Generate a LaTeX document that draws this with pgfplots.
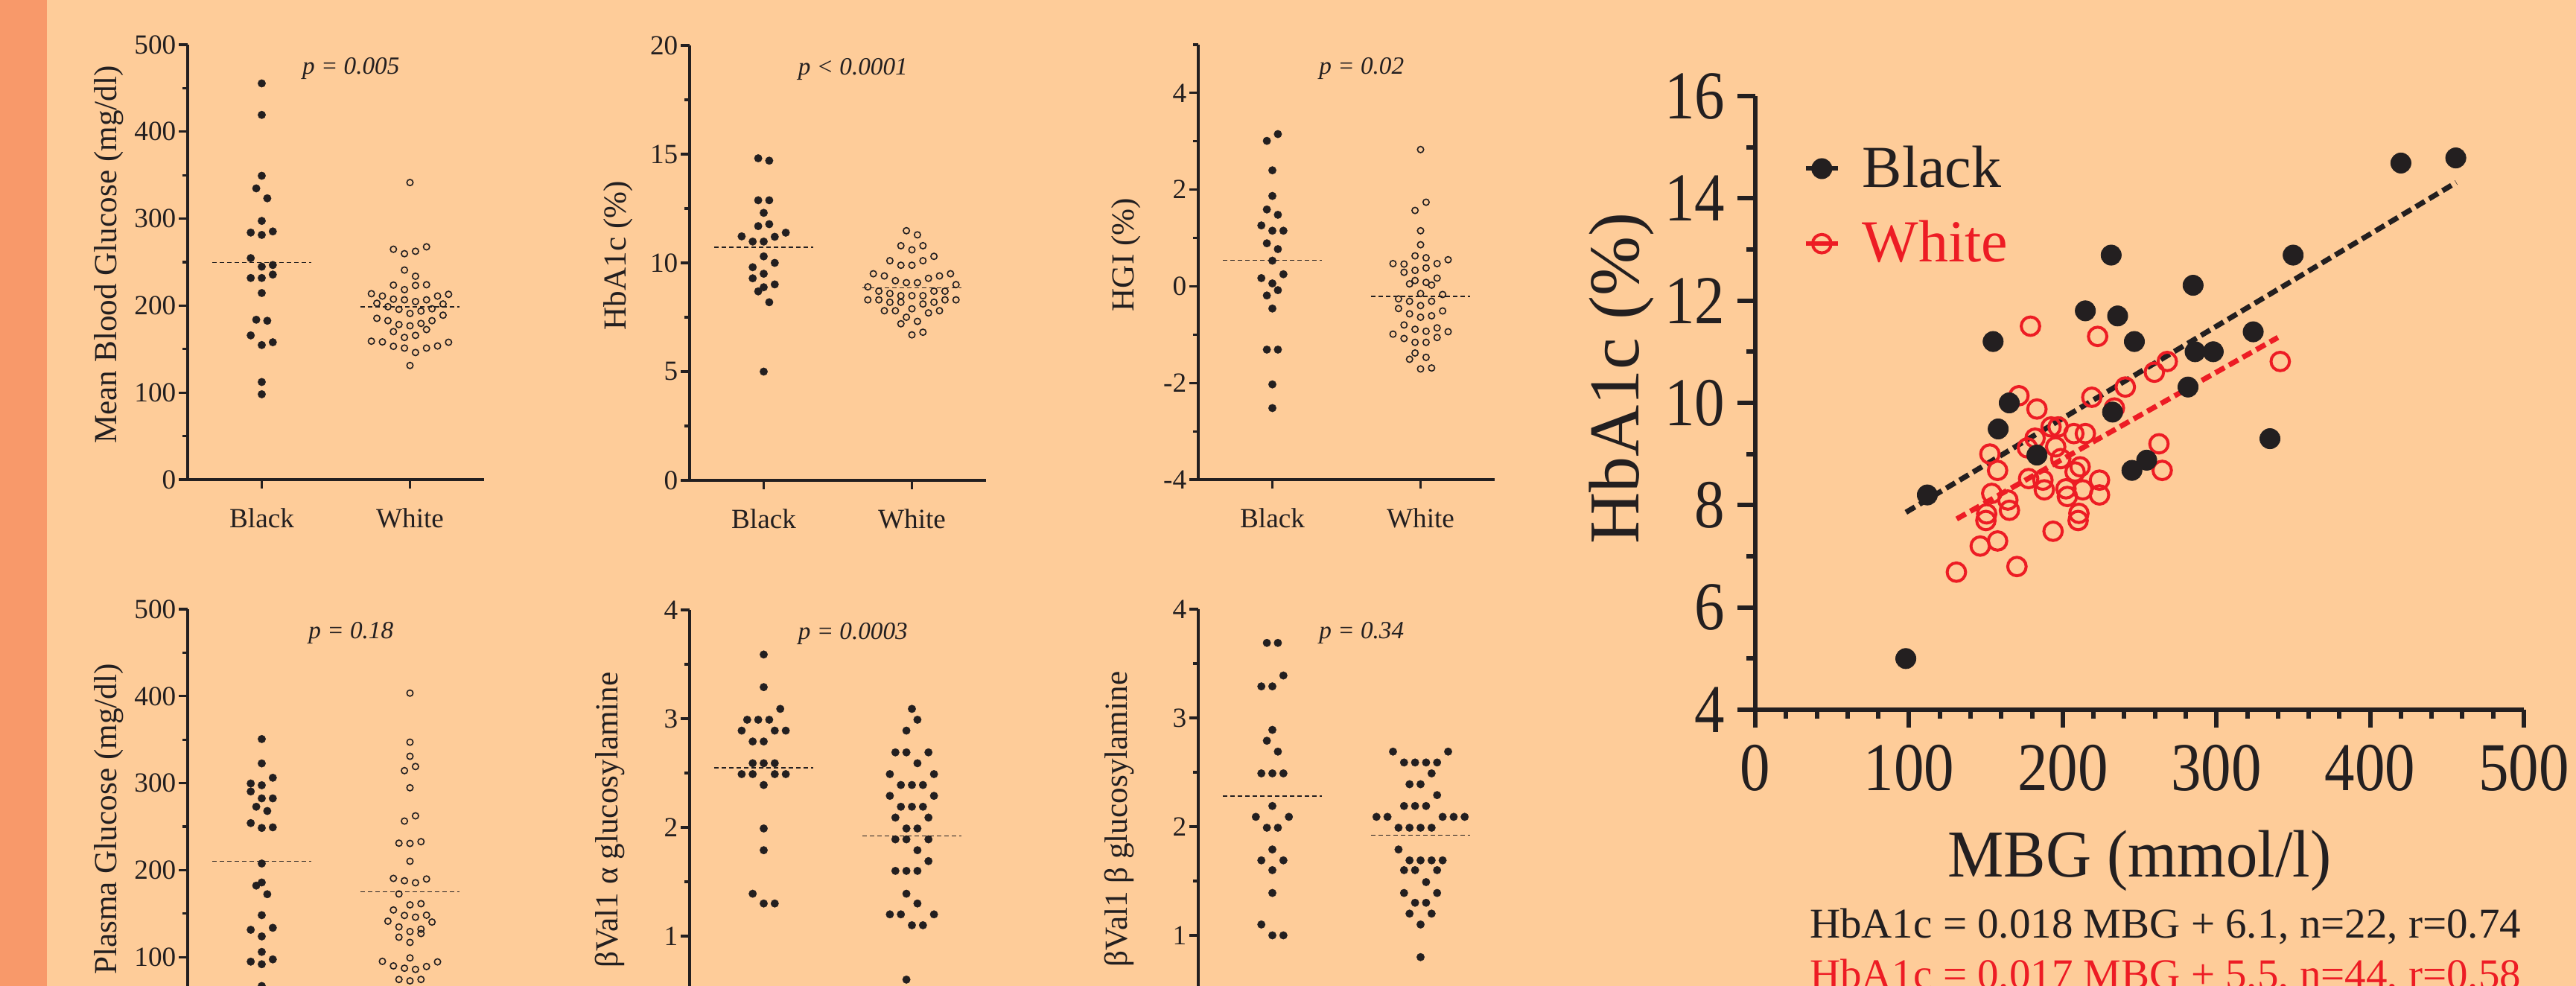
\documentclass[border=0pt]{standalone}
\usepackage{pgfplots}
\pgfplotsset{compat=1.18}
\usepackage{fontspec}
\setmainfont{Liberation Serif}
\newfontfamily\condfont[FakeStretch=0.88]{Liberation Serif}
\newfontfamily\midfont[FakeStretch=0.94]{Liberation Serif}
\definecolor{bg}{RGB}{254,204,153}
\definecolor{stripe}{RGB}{248,153,106}
\definecolor{myred}{RGB}{237,28,36}
\definecolor{ink}{RGB}{35,31,32}
\pgfplotsset{
  dotplot/.style={
    scale only axis, width=99.5pt, height=146pt,
    axis lines*=left, xmin=0.5, xmax=2.5,
    xtick={1,2}, xticklabels={Black,White},
    tick align=outside,
    major tick length=3pt, minor tick length=1.75pt,
    axis line style={line width=0.8pt, ink},
    tick style={line width=0.8pt, ink},
    tick label style={font=\fontsize{9.3}{10}\selectfont, text=ink},
    xticklabel style={inner sep=0pt, anchor=north, yshift=-6.5pt},
    yticklabel style={inner sep=0pt, anchor=east, xshift=-0.75pt},
    ylabel style={anchor=base, font=\fontsize{10.8}{12}\selectfont, text=ink},
    clip=false,
  },
  lowrow/.style={xticklabels={}},
  blk/.style={only marks, mark=*, mark size=1.3pt, ink, mark options={line width=0.1pt}},
  wht/.style={only marks, mark=o, mark size=1.05pt, ink, mark options={line width=0.4pt}},
  wfill/.style={only marks, mark=*, mark size=1.3pt, ink, mark options={line width=0.1pt}},
  med/.style={ink, line width=0.4pt, dash pattern=on 1.5pt off 1pt},
}
\newcommand{\pval}[1]{\node[anchor=base, font=\fontsize{8.3}{10}\selectfont\itshape, text=ink] at (axis description cs:0.551,0.932) {#1};}
\begin{document}
\begin{tikzpicture}[color=ink]
\useasboundingbox (0,0) rectangle (864.75pt,-331pt);
\fill[bg] (0,0) rectangle (864.75pt,-331pt);
\fill[stripe] (0,0) rectangle (15.75pt,-331pt);
\clip (0,0) rectangle (864.75pt,-331pt);

% ---------- Panel 1: Mean Blood Glucose
\begin{axis}[dotplot, at={(63pt,-161pt)}, anchor=south west,
  ymin=0, ymax=500, ytick={0,100,...,500}, minor y tick num=1,
  yticklabels={0,100,200,300,400,500},
  ylabel={Mean Blood Glucose (mg/dl)},
  ylabel style={at={(axis description cs:-0.241,0.517)}}]
\addplot[blk] table[x expr=1+0.0744*\thisrowno{0}, y index=1] {
0 455.5
0 419.3
0 349.3
-0.5 334.8
0.5 323.4
0 297.4
-1 284
0 281.3
1 285.3
-1 254.6
0 244.8
1 246.7
1 235.7
-1 231.8
0 231.8
0 214.5
-0.5 183.8
0.5 182.6
-1 165.8
0 154.7
1 157.9
0 112.2
0 98.1
};
\addplot[wht] table[x expr=2+0.0744*\thisrowno{0}, y index=1] {
0 341.5
-1.5 264.8
-0.5 259.7
0.5 262.5
1.5 267.6
-0.5 240.9
0.5 233.8
-1.5 223.6
0.5 223.2
1.5 224
-0.5 218.4
-3.5 213.7
-2.5 211
-1.5 207.4
-0.5 206.7
0.5 204.7
1.5 206.7
2.5 211
3.5 213
-3 202.7
-2 198.8
-1 195.7
0 191
1 193.7
2 196.4
3 201.9
-3 185.4
-2 182.7
-1 178.3
0 176.8
1 179.5
2 182.7
3 189
-1.5 170.1
-0.5 163.4
0.5 165.8
1.5 172.5
-3.5 159.1
-2.5 158.3
-1.5 153.2
-0.5 151.2
0.5 146.1
1.5 151.2
2.5 153.6
3.5 157.9
0 131.2
};
\addplot[med] coordinates {(0.665,249.5) (1.335,249.5)};
\addplot[med] coordinates {(1.665,198.4) (2.335,198.4)};
\pval{p = 0.005}
\end{axis}

% ---------- Panel 2: HbA1c
\begin{axis}[dotplot, at={(231.5pt,-161.25pt)}, anchor=south west,
  ymin=0, ymax=20, ytick={0,5,...,20}, minor y tick num=1,
  yticklabels={0,5,10,15,20},
  ylabel={HbA1c (\%)},
  ylabel style={at={(axis description cs:-0.214,0.517)}}]
\addplot[blk] table[x expr=1+0.0744*\thisrowno{0}, y index=1] {
-0.5 14.81
0.5 14.70
-0.5 12.88
0.5 12.88
0 12.30
-0.5 11.69
0.5 11.78
-2 11.22
-1 10.98
0 10.98
1 11.20
2 11.39
0 10.30
-1 9.80
1 10.0
0 9.50
-1 9.29
0 8.88
1 9.01
-0.5 8.69
0.5 8.19
0 5.0
};
\addplot[wht] table[x expr=2+0.0744*\thisrowno{0}, y index=1] {
-0.5 11.48
0.5 11.29
-1 10.79
1 10.79
0 10.60
-2 10.10
2 10.30
1 10.10
-1 9.89
0 9.89
-3.5 9.50
-2.5 9.40
-1.5 9.18
-0.5 9.09
0.5 9.09
1.5 9.29
2.5 9.40
3.5 9.50
-4 8.90
-3 8.70
-2 8.59
-1 8.49
0 8.49
1 8.49
2 8.70
3 8.70
4 9.0
-4 8.30
-3 8.30
-2 8.19
-1 8.19
0 7.89
1 8.11
2 8.19
3 8.30
4 8.30
-2.5 7.80
-1.5 7.80
1.5 7.70
2.5 7.80
-0.5 7.50
0.5 7.31
-1 7.20
0 6.69
1 6.81
};
\addplot[med] coordinates {(0.665,10.71) (1.335,10.71)};
\addplot[med] coordinates {(1.665,8.85) (2.335,8.85)};
\pval{p < 0.0001}
\end{axis}

% ---------- Panel 3: HGI
\begin{axis}[dotplot, at={(402.25pt,-161pt)}, anchor=south west,
  ymin=-4, ymax=5, ytick={-4,-2,0,2,4}, minor ytick={-3,-1,1,3,5},
  yticklabels={-4,-2,0,2,4},
  ylabel={HGI (\%)},
  ylabel style={at={(axis description cs:-0.217,0.517)}}]
\addplot[blk] table[x expr=1+0.0744*\thisrowno{0}, y index=1] {
0.5 3.15
-0.5 3.01
0 2.40
0 1.87
-0.5 1.59
0.5 1.48
-1 1.26
0 1.15
1 1.15
-0.5 0.89
0.5 0.77
0 0.53
1 0.25
-1 0.17
0 0.06
0.5 -0.08
-0.5 -0.19
0 -0.46
-0.5 -1.31
0.5 -1.31
0 -2.03
0 -2.52
};
\addplot[wht] table[x expr=2+0.0744*\thisrowno{0}, y index=1] {
0 2.83
0.5 1.74
-0.5 1.57
0 1.15
0 0.86
-0.5 0.63
0.5 0.59
-2.5 0.47
-1.5 0.46
1.5 0.47
2.5 0.55
0.5 0.38
-0.5 0.33
-1.5 0.29
1.5 0.17
-0.5 0.12
0.5 0.08
-1 0.05
1 0.025
0 -0.15
2 -0.17
-2 -0.26
-1 -0.31
1 -0.31
0 -0.40
-2 -0.46
2 -0.51
-1 -0.57
1 -0.61
0 -0.64
-1.5 -0.80
1.5 -0.86
-0.5 -0.89
0.5 -0.93
2.5 -0.94
-2.5 -0.99
-1.5 -1.08
1.5 -1.06
-0.5 -1.16
0.5 -1.16
-0.5 -1.38
-1 -1.51
0.5 -1.47
0 -1.71
1 -1.69
};
\addplot[med] coordinates {(0.665,0.54) (1.335,0.54)};
\addplot[med] coordinates {(1.665,-0.21) (2.335,-0.21)};
\pval{p = 0.02}
\end{axis}

% ---------- Panel 4: Plasma Glucose
\begin{axis}[dotplot, lowrow, at={(63pt,-350.5pt)}, anchor=south west,
  ymin=0, ymax=500, ytick={100,200,...,500}, minor y tick num=1,
  yticklabels={100,200,300,400,500},
  ylabel={Plasma Glucose (mg/dl)},
  ylabel style={at={(axis description cs:-0.241,0.517)}}]
\addplot[blk] table[x expr=1+0.0744*\thisrowno{0}, y index=1] {
0 350.7
0 322.7
1 306.2
-1 299.6
0 297.6
-1 290.4
0 282.5
1 282.5
-0.5 272.9
0.5 268
-1 254.1
0 248.5
1 249.2
0 207.6
0 185.8
-0.5 182.2
0.5 172.3
0 148.2
-1 131.4
1 133.7
0 123.8
0 106
-1 94.8
0 91.8
1 97.4
0 66.8
};
\addplot[wht] table[x expr=2+0.0744*\thisrowno{0}, y index=1] {
0 403.5
0 347.1
0 330.9
-0.5 314.4
0.5 319.1
0 294.7
-0.5 256.4
0.5 262.4
-1 231
0 230.7
1 232.7
0 210.2
-1.5 190.5
-0.5 187.8
0.5 185.5
1.5 189.8
-1 172.6
0 160.1
1 161.4
-1.5 154.2
-0.5 147.9
0.5 145.9
1.5 148.2
-2 141.3
2 140.3
-1 134.7
0 129.4
1 132.1
1 127.1
-1 122.9
0 116.9
0 99.1
-2.5 95.1
-1.5 89.9
-0.5 87.2
0.5 85.9
1.5 89.2
2.5 94.5
-1 74.3
0 72.7
1 74.3
-0.5 60
0.5 58
};
\addplot[med] coordinates {(0.665,210.2) (1.335,210.2)};
\addplot[med] coordinates {(1.665,175) (2.335,175)};
\pval{p = 0.18}
\end{axis}

% ---------- Panel 5: bVal1 alpha
\begin{axis}[dotplot, lowrow, at={(231.5pt,-350.75pt)}, anchor=south west,
  ymin=0, ymax=4, ytick={1,2,3,4}, minor y tick num=1,
  yticklabels={1,2,3,4},
  ylabel={βVal1 α glucosylamine},
  ylabel style={at={(axis description cs:-0.243,0.517)}}]
\addplot[blk] table[x expr=1+0.0744*\thisrowno{0}, y index=1] {
0 3.59
0 3.29
1.5 3.09
-1.5 2.99
-0.5 2.99
0.5 2.99
-2 2.89
1 2.89
2 2.89
-1 2.79
0 2.79
-1 2.59
0 2.59
1 2.59
-2 2.49
-1 2.49
1 2.49
2 2.49
0 2.39
0 1.99
0 1.79
-1 1.39
0 1.30
1 1.30
};
\addplot[wfill] table[x expr=2+0.0744*\thisrowno{0}, y index=1] {
0 3.09
0.5 2.99
-0.5 2.89
-1.5 2.69
-0.5 2.69
1.5 2.69
0.5 2.59
-2 2.49
2 2.49
-1 2.39
0 2.39
1 2.39
-2 2.29
2 2.29
-1 2.19
0 2.19
1 2.19
-1.5 2.09
1.5 2.09
-0.5 1.99
0.5 1.99
-1.5 1.89
-0.5 1.89
1.5 1.89
0.5 1.79
1.5 1.69
-1.5 1.60
-0.5 1.60
0.5 1.60
-0.5 1.39
0.5 1.30
-2 1.20
-1 1.20
2 1.20
0 1.10
1 1.10
-0.5 0.60
};
\addplot[med] coordinates {(0.665,2.55) (1.335,2.55)};
\addplot[med] coordinates {(1.665,1.92) (2.335,1.92)};
\pval{p = 0.0003}
\end{axis}

% ---------- Panel 6: bVal1 beta
\begin{axis}[dotplot, lowrow, at={(402.25pt,-350.5pt)}, anchor=south west,
  ymin=0, ymax=4, ytick={1,2,3,4}, minor y tick num=1,
  yticklabels={1,2,3,4},
  ylabel={βVal1 β glucosylamine},
  ylabel style={at={(axis description cs:-0.239,0.517)}}]
\addplot[blk] table[x expr=1+0.0744*\thisrowno{0}, y index=1] {
-0.5 3.69
0.5 3.69
1 3.39
-1 3.29
0 3.29
0 2.89
-0.5 2.79
0.5 2.69
-1 2.49
0 2.49
1 2.49
0 2.19
-1.5 2.09
1.5 2.09
-0.5 1.99
0.5 1.99
0 1.79
-1 1.69
1 1.69
0 1.60
0 1.39
-1 1.10
0 1.00
1 1.00
};
\addplot[wfill] table[x expr=2+0.0744*\thisrowno{0}, y index=1] {
-2.5 2.69
2.5 2.69
-1.5 2.59
-0.5 2.59
0.5 2.59
1.5 2.59
1 2.49
-1 2.39
0 2.39
1.5 2.29
-1.5 2.19
-0.5 2.19
0.5 2.19
-4 2.09
-3 2.09
2 2.09
3 2.09
4 2.09
-2 1.99
-1 1.99
0 1.99
1 1.99
-2 1.79
-1 1.69
0 1.69
1 1.69
2 1.69
-1.5 1.60
-0.5 1.60
1.5 1.60
0.5 1.49
-1.5 1.39
1.5 1.39
-0.5 1.30
0.5 1.30
-1 1.20
1 1.20
0 1.10
0 0.80
};
\addplot[med] coordinates {(0.665,2.28) (1.335,2.28)};
\addplot[med] coordinates {(1.665,1.92) (2.335,1.92)};
\pval{p = 0.34}
\end{axis}

% ---------- Scatter
\begin{axis}[scale only axis, width=258pt, height=206pt,
  at={(589.25pt,-238.25pt)}, anchor=south west,
  axis lines*=left, xmin=0, xmax=500, ymin=4, ymax=16,
  xtick={0,100,...,500}, minor x tick num=4,
  ytick={4,6,...,16}, minor y tick num=1,
  xticklabels={0,100,200,300,400,500},
  yticklabels={4,6,8,10,12,14,16},
  tick align=outside, major tick length=6pt, minor tick length=3pt,
  axis line style={line width=1.5pt, ink},
  tick style={line width=1.5pt, ink},
  tick label style={font=\condfont\fontsize{23}{23}\selectfont, text=ink},
  xticklabel style={inner sep=0pt, anchor=north, yshift=-5.75pt},
  yticklabel style={inner sep=0pt, anchor=east, xshift=-4pt},
  xlabel={MBG (mmol/l)},
  xlabel style={at={(axis description cs:0.5,-0.2725)}, anchor=base, font=\midfont\fontsize{22.5}{23}\selectfont, text=ink},
  ylabel={HbA1c (\%)},
  ylabel style={at={(axis description cs:-0.152,0.54)}, anchor=base, font=\fontsize{24}{25}\selectfont, text=ink},
  clip=false,
  legend style={draw=none, fill=none, at={(axis description cs:0.062,0.920)}, anchor=north west,
    inner sep=0pt, font=\fontsize{20}{20}\selectfont, row sep=9.8pt, column sep=7.5pt,
    nodes={inner sep=0pt}},
  legend cell align=left,
  legend image code/.code={\draw[mark repeat=2,mark phase=2,#1] plot coordinates {(0pt,0pt) (5.375pt,0pt) (10.75pt,0pt)};},
]
\addlegendimage{ink, mark=*, mark size=3.4pt, line width=1.5pt, mark options={line width=0.2pt}}
\addlegendentry{Black}
\addlegendimage{myred, mark=o, mark size=3.1pt, line width=1.5pt, mark options={line width=1pt}}
\addlegendentry[text=myred]{White}
\addplot[ink, line width=1.75pt, dash pattern=on 3.5pt off 1.75pt, forget plot] coordinates {(98,7.86) (456,14.31)};
\addplot[myred, line width=1.75pt, dash pattern=on 3.5pt off 1.75pt, forget plot] coordinates {(131,7.73) (340,11.28)};
\addplot[only marks, mark=o, mark size=3.1pt, myred, mark options={line width=1pt}, forget plot] coordinates {
(179,11.5) (222.7,11.3) (341.5,10.81) (268,10.81) (259.6,10.6) (240.7,10.31) (218.9,10.11) (171.5,10.14)
(233.6,9.9) (183.2,9.88) (192.4,9.53) (197,9.53) (207.2,9.4) (214.7,9.4) (182,9.31) (262.6,9.2)
(195.4,9.14) (177,9.12) (152.6,9.0) (198.7,8.91) (211.3,8.75) (157.6,8.68) (208,8.65) (264.7,8.68)
(223.9,8.49) (177.8,8.52) (187.1,8.49) (202.1,8.32) (213,8.3) (188,8.3) (153.8,8.23) (223.9,8.2)
(203,8.17) (164.3,8.1) (210.5,7.84) (150.5,7.83) (165.3,7.9) (193.7,7.49) (157.6,7.3) (146.3,7.2)
(130.8,6.69) (170.2,6.8) (210,7.7) (150,7.7)
};
\addplot[only marks, mark=*, mark size=3.4pt, ink, mark options={line width=0.2pt}, forget plot] coordinates {
(420,14.69) (455.7,14.79) (231.5,12.89) (349.9,12.89) (284.8,12.30) (214.7,11.80) (235.7,11.70)
(154.7,11.20) (246.6,11.20) (323.9,11.39) (286.1,11.0) (297.9,11.0) (281.5,10.31) (165.2,10.0)
(232.4,9.82) (158,9.49) (334.8,9.30) (183.2,8.98) (254.6,8.88) (245,8.68) (111.9,8.2) (97.9,5.0)
};
\end{axis}

\node[anchor=base west, font=\fontsize{14.25}{15}\selectfont, text=ink] at (604pt,-314.75pt) {HbA1c = 0.018 MBG + 6.1, n=22, r=0.74};
\node[anchor=base west, font=\fontsize{14.25}{15}\selectfont, text=myred] at (604pt,-331.75pt) {HbA1c = 0.017 MBG + 5.5, n=44, r=0.58};
\end{tikzpicture}
\end{document}
